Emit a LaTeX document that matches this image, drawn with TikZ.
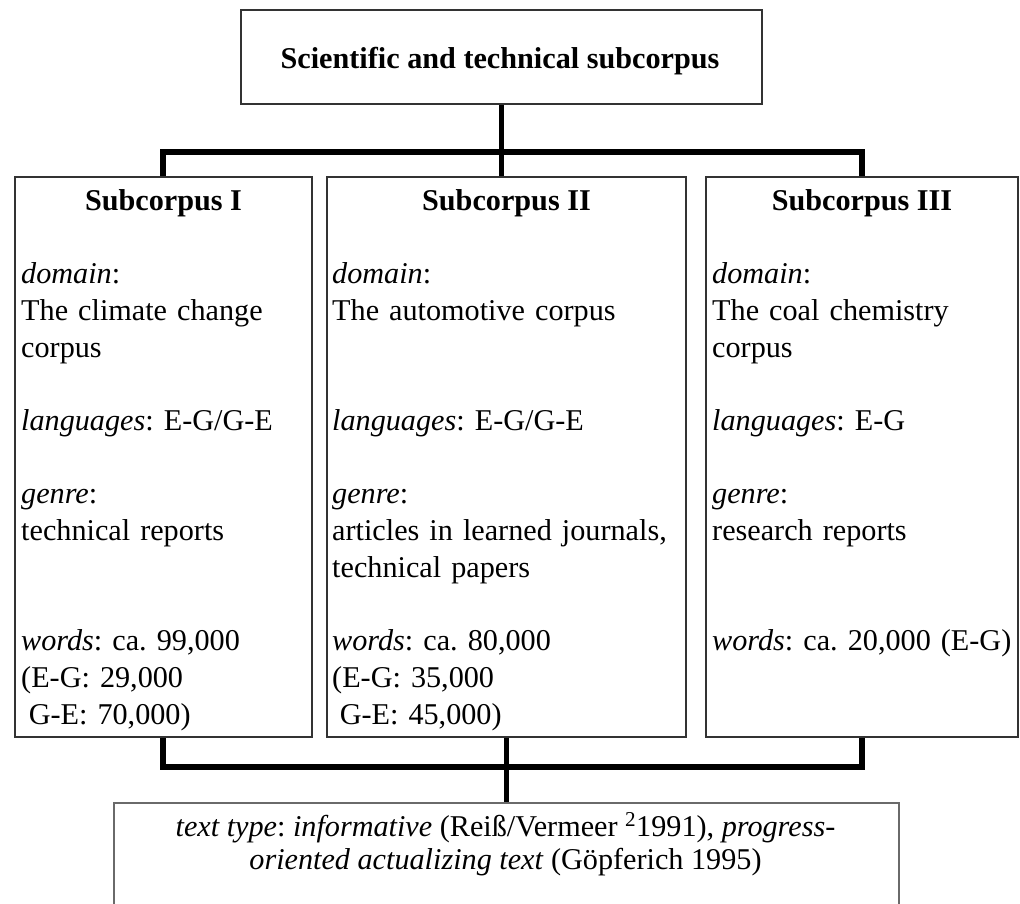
\documentclass[tikz,border=0pt]{standalone}
\usepackage{fontspec}
\setmainfont{Liberation Serif}
\usetikzlibrary{calc}
\definecolor{boxgray}{HTML}{333333}
\definecolor{botgray}{HTML}{6A6A6A}
\setlength{\parindent}{0pt}
\frenchspacing
\newcommand{\blankline}{\mbox{}}
\begin{document}
\begin{tikzpicture}[x=1pt,y=-1pt,
  box/.style={draw=boxgray, line width=2pt, inner sep=0pt, anchor=north west, rectangle},
  conn/.style={line width=5.5pt, draw=black},
  fnt/.style={font=\fontsize{30.2}{36.7}\selectfont\frenchspacing},
  head/.style={fnt, inner sep=0pt, anchor=base},
  body/.style={fnt, inner sep=0pt, anchor=north west, align=left, text width=440pt}]
\useasboundingbox (0,0) rectangle (1020,904);
\clip (0,0) rectangle (1020,904);

% boxes
\node[box, minimum width=521pt, minimum height=94pt] (top) at (240,9) {};
\node[box, minimum width=297pt, minimum height=560pt] (b1) at (14,176) {};
\node[box, minimum width=359pt, minimum height=560pt] (b2) at (326,176) {};
\node[box, minimum width=312pt, minimum height=560pt] (b3) at (705,176) {};
\node[box, draw=botgray, minimum width=785pt, minimum height=130pt] (bot) at (113,802) {};

% title
\node[head] (ttl) at (500,69) {\bfseries Scientific and technical subcorpus};

% headings
\node[head] (h1) at ($(b1.north)+(0,35)$) {\bfseries Subcorpus I};
\node[head] (h2) at ($(b2.north)+(0,35)$) {\bfseries Subcorpus II};
\node[head] (h3) at ($(b3.north)+(0,35)$) {\bfseries Subcorpus III};

% bodies (first baseline at 283.4)
\node[body] (d1) at (21,258.4) {\vrule width 0pt height 25pt\textit{domain}:\\
The climate change\\
corpus\\
\blankline\\
\textit{languages}: E-G/G-E\\
\blankline\\
\textit{genre}:\\
technical reports\\
\blankline\\
\blankline\\
\textit{words}: ca. 99,000\\
(E-G: 29,000\\
\hspace*{0.25em}G-E: 70,000)};

\node[body] (d2) at (332,258.4) {\vrule width 0pt height 25pt\textit{domain}:\\
The automotive corpus\\
\blankline\\
\blankline\\
\textit{languages}: E-G/G-E\\
\blankline\\
\textit{genre}:\\
articles in learned journals,\\
technical papers\\
\blankline\\
\textit{words}: ca. 80,000\\
(E-G: 35,000\\
\hspace*{0.25em}G-E: 45,000)};

\node[body] (d3) at (712,258.4) {\vrule width 0pt height 25pt\textit{domain}:\\
The coal chemistry\\
corpus\\
\blankline\\
\textit{languages}: E-G\\
\blankline\\
\textit{genre}:\\
research reports\\
\blankline\\
\blankline\\
\textit{words}: ca. 20,000 (E-G)};

% bottom text
\node[head] (f1) at (505.5,836) {\textit{text type}: \textit{informative} (Reiß/Vermeer \textsuperscript{2}1991), \textit{progress-}};
\node[head] (f2) at (505.5,869) {\textit{oriented actualizing text} (Göpferich 1995)};

% connectors
\coordinate (j1) at (163,152);
\coordinate (j3) at (862,152);
\coordinate (k1) at (163,767);
\coordinate (k3) at (862,767);
\draw[conn] (top.south) -- (top.south |- b2.north);
\draw[conn] (b1.north -| j1) -- (j1) -- (j3) -- (b3.north -| j3);
\draw[conn] (b1.south -| k1) -- (k1) -- (k3) -- (b3.south -| k3);
\draw[conn] (b2.south) -- (bot.north);
\end{tikzpicture}
\end{document}
